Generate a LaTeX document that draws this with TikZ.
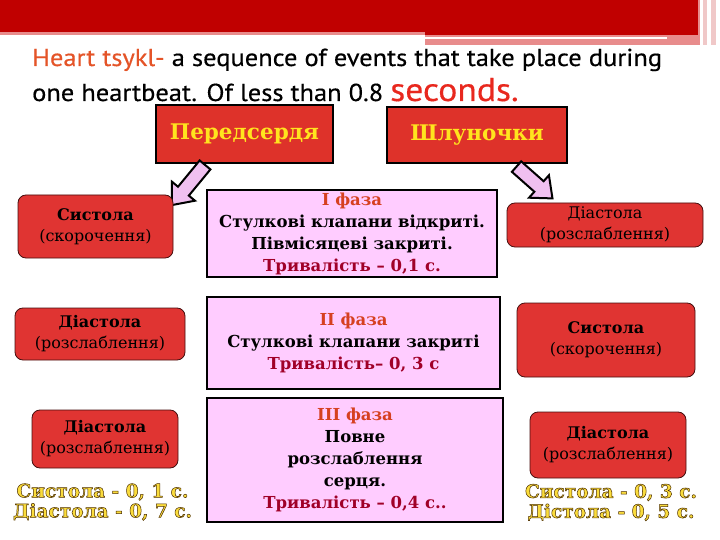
\documentclass[tikz,border=0pt]{standalone}
\usepackage{fontspec}
\setmainfont{DejaVu Serif}
\newfontfamily\titlefont[FakeStretch=1.08,FakeBold=0.4]{PT Sans}
\definecolor{bandred}{RGB}{192,0,0}
\definecolor{bandpink}{RGB}{232,140,140}
\definecolor{bandlight}{RGB}{240,200,200}
\definecolor{titleorange}{RGB}{228,84,40}
\definecolor{secred}{RGB}{232,40,30}
\definecolor{hdrred}{RGB}{222,50,42}
\definecolor{hdryellow}{RGB}{255,228,30}
\definecolor{boxred}{RGB}{224,52,50}
\definecolor{boxborder}{RGB}{70,15,15}
\definecolor{phasepink}{RGB}{255,204,255}
\definecolor{phaseorange}{RGB}{214,64,32}
\definecolor{durred}{RGB}{160,0,40}
\definecolor{arrowpink}{RGB}{240,192,240}
\definecolor{goldtxt}{RGB}{250,220,60}
\newcommand\outlined[1]{{\color{goldtxt}\special{pdf:literal direct 2 Tr 0.5 w 0.3 0.18 0 RG}#1\special{pdf:literal direct 0 Tr}}}
\tikzset{
  hdr/.style={draw=black, line width=2.5pt, fill=hdrred, text=hdryellow,
    font=\bfseries\fontsize{21.5}{25}\selectfont, inner sep=0pt},
  phase/.style={draw=black, line width=2pt, fill=phasepink, align=center,
    inner sep=0pt, font=\bfseries\fontsize{16.5}{22}\selectfont},
  rbox/.style={draw=boxborder, line width=0.8pt, fill=boxred, rounded corners=8pt,
    align=center, inner sep=0pt, font=\fontsize{16}{21}\selectfont},
  gold/.style={align=center, inner sep=0pt, font=\bfseries\fontsize{18.5}{20}\selectfont},
  blockarrow/.style={draw=black, line width=2pt, fill=arrowpink, line join=miter}
}
\begin{document}
\begin{tikzpicture}[x=1pt,y=-1pt]
\useasboundingbox (0,0) rectangle (720,540);
% top band
\fill[bandred] (0,0) rectangle (698,32);
\fill[bandpink] (0,32) rectangle (425,35.5);
\fill[bandpink] (425,0) rectangle (700,45);
\fill[bandred] (425,0) rectangle (698,35.5);
\fill[white] (425,37.5) rectangle (667,39.5);
\fill[bandlight] (703,0) rectangle (707,45);
\fill[bandlight] (711,0) rectangle (716,45);
% title
\node[anchor=base west, inner sep=0pt, font=\titlefont\fontsize{24.5}{28}\selectfont] (t1) at (32,66)
  {\textcolor{titleorange}{Heart tsykl-} a sequence of events that take place during};
\node[anchor=base west, inner sep=0pt, font=\titlefont\fontsize{24.5}{28}\selectfont] (t2) at (32,101)
  {one heartbeat. Of less than 0.8 {\fontsize{33}{34}\selectfont\textcolor{secred}{seconds.}}};
% header boxes
\node[hdr, minimum width=177pt, minimum height=58pt] (atria) at (244.5,134) {Передсердя};
\node[hdr, minimum width=180pt, minimum height=56pt] (vent) at (477,135) {Шлуночки};
% block arrows
\begin{scope}[shift={(188.5,185)}, rotate=230.5]
  \draw[blockarrow] (-26,-7) -- (8,-7) -- (8,-15) -- (26,0) -- (8,15) -- (8,7) -- (-26,7) -- cycle;
\end{scope}
\begin{scope}[shift={(534.5,182.5)}, rotate=-41.5]
  \draw[blockarrow] (-24,-7) -- (6,-7) -- (6,-15) -- (24,0) -- (6,15) -- (6,7) -- (-24,7) -- cycle;
\end{scope}
% phase boxes
\node[phase, minimum width=290pt, minimum height=87pt] (p1) at (352,233.5)
  {\textcolor{phaseorange}{I фаза}\\Стулкові клапани відкриті.\\Півмісяцеві закриті.\\\textcolor{durred}{Тривалість – 0,1 с.}};
\node[phase, minimum width=293pt, minimum height=92pt] (p2) at (353.5,343)
  {\textcolor{phaseorange}{II фаза}\\Стулкові клапани закриті\\\textcolor{durred}{Тривалість– 0, 3 с}};
\node[phase, minimum width=296pt, minimum height=124pt] (p3) at (355,460)
  {\textcolor{phaseorange}{III фаза}\\Повне\\розслаблення\\серця.\\\textcolor{durred}{Тривалість – 0,4 с..}};
% left column
\node[rbox, minimum width=155pt, minimum height=63pt] (l1) at (95.5,226.5) {\textbf{Систола}\\(скорочення)};
\node[rbox, minimum width=170pt, minimum height=52pt] (l2) at (100,334) {\textbf{Діастола}\\(розслаблення)};
\node[rbox, minimum width=146pt, minimum height=58pt] (l3) at (105,439) {\textbf{Діастола}\\(розслаблення)};
\node[gold] (lt) at (102.5,502) {\outlined{Систола - 0, 1 с.}\\\outlined{Діастола - 0, 7 с.}};
% right column
\node[rbox, minimum width=196pt, minimum height=44pt] (r1) at (605,225) {Діастола\\(розслаблення)};
\node[rbox, minimum width=178pt, minimum height=74pt] (r2) at (606,340) {\textbf{Систола}\\(скорочення)};
\node[rbox, minimum width=156pt, minimum height=66pt] (r3) at (608,445) {\textbf{Діастола}\\(розслаблення)};
\node[gold] (rt) at (611,502.5) {\outlined{Систола - 0, 3 с.}\\\outlined{Дістола - 0, 5 с.}};
\end{tikzpicture}
\end{document}
